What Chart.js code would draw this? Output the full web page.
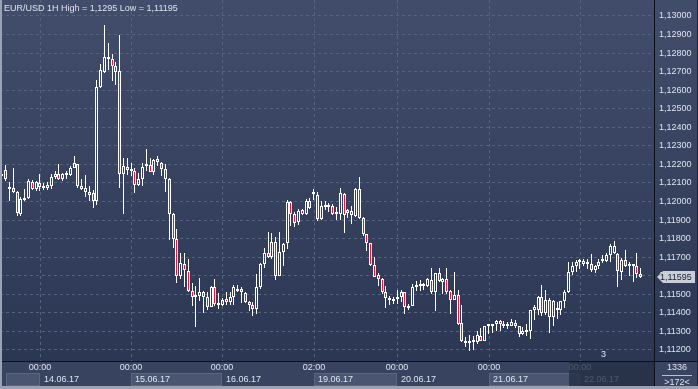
<!DOCTYPE html>
<html>
<head>
<meta charset="utf-8">
<script src="https://cdn.jsdelivr.net/npm/chart.js@4.4.1/dist/chart.umd.min.js"></script>
<style>
 html, body { margin: 0; padding: 0; background: #2f3b56; }
 canvas { display: block; }
</style>
</head>
<body>
<canvas id="candleChart" width="698" height="389"></canvas>
<script>
// EUR/USD hourly candles
const opens = [
 1.12140, 1.12170, 1.12070, 1.12075, 1.12054, 1.11932, 1.12009, 1.12018, 1.12107, 1.12066,
 1.12102, 1.12072, 1.12075, 1.12084, 1.12134, 1.12150, 1.12120, 1.12145, 1.12143, 1.12182,
 1.12204, 1.12084, 1.12075, 1.12054, 1.12045, 1.12004, 1.12620, 1.12700, 1.12777, 1.12766,
 1.12731, 1.12704, 1.12150, 1.12186, 1.12164, 1.12164, 1.12089, 1.12121, 1.12189, 1.12198,
 1.12159, 1.12228, 1.12207, 1.12175, 1.12121, 1.11934, 1.11796, 1.11600, 1.11662, 1.11625,
 1.11519, 1.11484, 1.11489, 1.11514, 1.11484, 1.11430, 1.11537, 1.11444, 1.11444, 1.11475,
 1.11460, 1.11487, 1.11519, 1.11528, 1.11507, 1.11457, 1.11443, 1.11421, 1.11537, 1.11666,
 1.11725, 1.11703, 1.11782, 1.11599, 1.11728, 1.11778, 1.11996, 1.11935, 1.11891, 1.11957,
 1.11933, 1.12005, 1.12041, 1.12037, 1.11907, 1.11971, 1.11971, 1.11975, 1.11932, 1.11932,
 1.12042, 1.11957, 1.11951, 1.11921, 1.12069, 1.11912, 1.11823, 1.11775, 1.11658, 1.11603,
 1.11582, 1.11510, 1.11468, 1.11464, 1.11475, 1.11486, 1.11510, 1.11426, 1.11437, 1.11540,
 1.11546, 1.11553, 1.11544, 1.11577, 1.11510, 1.11613, 1.11568, 1.11582, 1.11519, 1.11471,
 1.11495, 1.11345, 1.11250, 1.11236, 1.11241, 1.11241, 1.11274, 1.11250, 1.11327, 1.11327,
 1.11341, 1.11354, 1.11332, 1.11330, 1.11332, 1.11345, 1.11327, 1.11287, 1.11296, 1.11301,
 1.11414, 1.11414, 1.11483, 1.11401, 1.11472, 1.11378, 1.11414, 1.11414, 1.11463, 1.11514,
 1.11623, 1.11650, 1.11674, 1.11681, 1.11665, 1.11665, 1.11632, 1.11650, 1.11678, 1.11678,
 1.11714, 1.11723, 1.11720, 1.11620, 1.11683, 1.11654, 1.11650, 1.11650, 1.11610
];
const highs = [
 1.12164, 1.12197, 1.12107, 1.12179, 1.12057, 1.12025, 1.12070, 1.12123, 1.12114, 1.12111,
 1.12147, 1.12102, 1.12105, 1.12150, 1.12164, 1.12200, 1.12155, 1.12164, 1.12191, 1.12248,
 1.12205, 1.12123, 1.12145, 1.12084, 1.12061, 1.12656, 1.12741, 1.12950, 1.12852, 1.12795,
 1.12754, 1.12900, 1.12236, 1.12236, 1.12207, 1.12180, 1.12153, 1.12207, 1.12284, 1.12234,
 1.12230, 1.12243, 1.12211, 1.12203, 1.12125, 1.11940, 1.11853, 1.11725, 1.11725, 1.11689,
 1.11560, 1.11546, 1.11586, 1.11519, 1.11514, 1.11546, 1.11582, 1.11507, 1.11478, 1.11510,
 1.11510, 1.11552, 1.11552, 1.11537, 1.11510, 1.11466, 1.11457, 1.11610, 1.11671, 1.11748,
 1.11837, 1.11832, 1.11808, 1.11837, 1.11775, 1.12007, 1.12005, 1.11942, 1.11960, 1.11960,
 1.12014, 1.12019, 1.12069, 1.12050, 1.12001, 1.12001, 1.11992, 1.11987, 1.11969, 1.12073,
 1.12046, 1.11962, 1.11978, 1.12072, 1.12135, 1.11917, 1.11826, 1.11778, 1.11703, 1.11614,
 1.11587, 1.11546, 1.11490, 1.11486, 1.11526, 1.11522, 1.11513, 1.11450, 1.11558, 1.11573,
 1.11577, 1.11562, 1.11589, 1.11640, 1.11616, 1.11640, 1.11586, 1.11640, 1.11526, 1.11622,
 1.11526, 1.11441, 1.11268, 1.11283, 1.11274, 1.11305, 1.11319, 1.11330, 1.11341, 1.11341,
 1.11359, 1.11359, 1.11356, 1.11350, 1.11368, 1.11359, 1.11332, 1.11323, 1.11341, 1.11418,
 1.11441, 1.11490, 1.11550, 1.11523, 1.11478, 1.11469, 1.11460, 1.11466, 1.11523, 1.11672,
 1.11672, 1.11687, 1.11690, 1.11690, 1.11690, 1.11720, 1.11660, 1.11692, 1.11714, 1.11723,
 1.11769, 1.11787, 1.11723, 1.11696, 1.11741, 1.11672, 1.11660, 1.11723, 1.11641
];
const lows = [
 1.12057, 1.12113, 1.12004, 1.12048, 1.11923, 1.11920, 1.12005, 1.12013, 1.12063, 1.12057,
 1.12055, 1.12063, 1.12063, 1.12070, 1.12120, 1.12114, 1.12113, 1.12123, 1.12138, 1.12180,
 1.12075, 1.12063, 1.12022, 1.12004, 1.11966, 1.11982, 1.12611, 1.12691, 1.12709, 1.12652,
 1.12629, 1.12075, 1.11934, 1.12141, 1.12139, 1.12046, 1.12082, 1.12082, 1.12162, 1.12157,
 1.12141, 1.12193, 1.12139, 1.12050, 1.11793, 1.11752, 1.11560, 1.11582, 1.11537, 1.11510,
 1.11435, 1.11323, 1.11466, 1.11398, 1.11418, 1.11430, 1.11439, 1.11421, 1.11439, 1.11443,
 1.11443, 1.11443, 1.11514, 1.11453, 1.11453, 1.11412, 1.11382, 1.11394, 1.11528, 1.11644,
 1.11698, 1.11692, 1.11578, 1.11597, 1.11653, 1.11742, 1.11867, 1.11864, 1.11876, 1.11930,
 1.11930, 1.11962, 1.12007, 1.11894, 1.11903, 1.11957, 1.11942, 1.11930, 1.11903, 1.11903,
 1.11828, 1.11912, 1.11880, 1.11917, 1.11908, 1.11814, 1.11733, 1.11653, 1.11591, 1.11546,
 1.11501, 1.11424, 1.11441, 1.11450, 1.11450, 1.11459, 1.11395, 1.11417, 1.11435, 1.11519,
 1.11519, 1.11522, 1.11537, 1.11500, 1.11410, 1.11568, 1.11504, 1.11500, 1.11395, 1.11468,
 1.11337, 1.11241, 1.11218, 1.11195, 1.11198, 1.11232, 1.11247, 1.11248, 1.11287, 1.11292,
 1.11305, 1.11305, 1.11319, 1.11314, 1.11327, 1.11319, 1.11269, 1.11283, 1.11278, 1.11260,
 1.11360, 1.11390, 1.11383, 1.11387, 1.11292, 1.11329, 1.11369, 1.11387, 1.11429, 1.11505,
 1.11605, 1.11618, 1.11636, 1.11654, 1.11636, 1.11620, 1.11614, 1.11636, 1.11669, 1.11672,
 1.11672, 1.11720, 1.11541, 1.11578, 1.11647, 1.11600, 1.11569, 1.11587, 1.11587
];
const closes = [
 1.12137, 1.12120, 1.12075, 1.12052, 1.11936, 1.12013, 1.12016, 1.12111, 1.12070, 1.12104,
 1.12080, 1.12079, 1.12088, 1.12134, 1.12150, 1.12120, 1.12147, 1.12152, 1.12182, 1.12207,
 1.12084, 1.12070, 1.12052, 1.12036, 1.12004, 1.12620, 1.12709, 1.12777, 1.12766, 1.12731,
 1.12700, 1.12150, 1.12191, 1.12172, 1.12171, 1.12089, 1.12121, 1.12186, 1.12198, 1.12159,
 1.12225, 1.12212, 1.12175, 1.12121, 1.11934, 1.11796, 1.11600, 1.11668, 1.11630, 1.11519,
 1.11484, 1.11496, 1.11514, 1.11484, 1.11430, 1.11537, 1.11448, 1.11451, 1.11471, 1.11457,
 1.11487, 1.11537, 1.11528, 1.11510, 1.11457, 1.11443, 1.11421, 1.11537, 1.11666, 1.11725,
 1.11703, 1.11782, 1.11599, 1.11728, 1.11769, 1.11996, 1.11935, 1.11885, 1.11951, 1.11933,
 1.12005, 1.11966, 1.12050, 1.11907, 1.11978, 1.11978, 1.11983, 1.11933, 1.11939, 1.12046,
 1.11930, 1.11939, 1.11926, 1.12069, 1.11912, 1.11823, 1.11775, 1.11658, 1.11596, 1.11582,
 1.11510, 1.11478, 1.11477, 1.11473, 1.11486, 1.11510, 1.11432, 1.11437, 1.11537, 1.11549,
 1.11553, 1.11546, 1.11582, 1.11510, 1.11613, 1.11573, 1.11582, 1.11510, 1.11471, 1.11495,
 1.11341, 1.11250, 1.11240, 1.11245, 1.11247, 1.11281, 1.11250, 1.11327, 1.11332, 1.11332,
 1.11356, 1.11341, 1.11341, 1.11336, 1.11350, 1.11327, 1.11287, 1.11300, 1.11301, 1.11414,
 1.11432, 1.11483, 1.11401, 1.11472, 1.11378, 1.11463, 1.11423, 1.11463, 1.11514, 1.11623,
 1.11650, 1.11674, 1.11681, 1.11665, 1.11672, 1.11629, 1.11650, 1.11674, 1.11683, 1.11714,
 1.11760, 1.11763, 1.11627, 1.11683, 1.11654, 1.11650, 1.11654, 1.11610, 1.11595
];

// bars shown on screen (last 3 slots are empty)
const slotCount = 172;
// index of the first candle of each day, with its time and date text
const dayStarts = [10, 34, 58, 82, 104, 128, 152];
const dayTimes = ["00:00", "00:00", "00:00", "02:00", "00:00", "00:00", "00:00"];
const dayDates = ["14.06.17", "15.06.17", "16.06.17", "19.06.17", "20.06.17", "21.06.17", "22.06.17"];

const titleText = "EUR/USD 1H High = 1,1295 Low = 1,11195";
const totalBars = "1336";
const visibleBars = ">172<";

const RED = "#e3173e";
const TEXT = "#dde3ee";
const FONT = "9px 'Liberation Sans', Arial, sans-serif";
const fmt = v => v.toFixed(5).replace(".", ",");

const labels = Array.from({ length: slotCount }, (_, i) => i);
const bodies = opens.map((o, i) => [Math.min(o, closes[i]), Math.max(o, closes[i])]);
const upperWicks = opens.map((o, i) => [Math.max(o, closes[i]), highs[i]]);
const lowerWicks = opens.map((o, i) => [lows[i], Math.min(o, closes[i])]);
const bodyFill = opens.map((o, i) => (closes[i] < o ? RED : "rgba(0,0,0,0)"));

const terminalLook = {
 id: "terminalLook",
 beforeDraw(chart) {
  const ctx = chart.ctx;
  const bottom = chart.chartArea.bottom;
  const g = ctx.createLinearGradient(0, 0, 0, bottom);
  g.addColorStop(0, "#414d6a");
  g.addColorStop(1, "#2b3753");
  ctx.save();
  ctx.fillStyle = g;
  ctx.fillRect(0, 0, chart.width, bottom);
  ctx.restore();
 },
 beforeDatasetsDraw(chart) {
  const ctx = chart.ctx;
  const xs = chart.scales.x;
  const { top, bottom } = chart.chartArea;
  ctx.save();
  ctx.strokeStyle = "#56637f";
  ctx.lineWidth = 1;
  ctx.setLineDash([3, 3]);
  dayStarts.forEach(i => {
   const x = Math.round(xs.getPixelForValue(i)) + 0.5;
   ctx.beginPath();
   ctx.moveTo(x, top);
   ctx.lineTo(x, bottom);
   ctx.stroke();
  });
  ctx.restore();

  // snap the candles to whole pixels so the thin lines stay crisp
  chart.data.datasets.forEach((ds, d) => {
   chart.getDatasetMeta(d).data.forEach(el => {
    el.x = Math.floor(el.x) + 0.5;
    el.y = Math.round(el.y);
    el.base = Math.round(el.base);
   });
  });
 },
 afterDraw(chart) {
  const ctx = chart.ctx;
  const xs = chart.scales.x;
  const ys = chart.scales.y;
  const { right, bottom } = chart.chartArea;
  const W = chart.width, H = chart.height;
  ctx.save();
  ctx.font = FONT;
  ctx.textBaseline = "middle";

  // title
  ctx.fillStyle = TEXT;
  ctx.textAlign = "left";
  ctx.fillText(titleText, 4, 9);

  // small counter near the corner
  ctx.fillText("3", 601, bottom - 6);

  // last price tag
  const last = closes[closes.length - 1];
  const py = Math.round(ys.getPixelForValue(last));
  ctx.fillStyle = "#c9ced8";
  ctx.beginPath();
  ctx.moveTo(right + 3, py);
  ctx.lineTo(right + 9, py - 6);
  ctx.lineTo(W - 3, py - 6);
  ctx.lineTo(W - 3, py + 6);
  ctx.lineTo(right + 9, py + 6);
  ctx.closePath();
  ctx.fill();
  ctx.fillStyle = "#1c2233";
  ctx.fillText(fmt(last), right + 6, py + 0.5);

  // time panel
  ctx.fillStyle = "#38445f";
  ctx.fillRect(0, bottom, W, H - bottom);
  const px = dayStarts.map(i => Math.round(xs.getPixelForValue(i)));
  const edges = [6, ...px, right];
  for (let k = 0; k < edges.length - 1; k++) {
   if (k % 2 === 0) {
    ctx.fillStyle = "#4a5671";
    ctx.fillRect(edges[k], bottom + 12, edges[k + 1] - edges[k], 13);
    ctx.strokeStyle = "#5a6680";
    ctx.strokeRect(edges[k] + 0.5, bottom + 12.5, edges[k + 1] - edges[k] - 1, 12);
   }
  }
  ctx.fillStyle = TEXT;
  px.forEach((x, k) => {
   ctx.textAlign = "center";
   ctx.fillText(dayTimes[k], x, bottom + 7);
   ctx.textAlign = "left";
   ctx.fillText(dayDates[k], x + 4, bottom + 19);
  });
  // dim block over the current day
  const dimX = px[px.length - 1] - 11;
  ctx.fillStyle = "rgba(36,46,68,0.78)";
  ctx.fillRect(dimX, bottom + 1, right - dimX, H - bottom - 4);

  // counter box under the price axis
  ctx.fillStyle = "#3a4661";
  ctx.fillRect(right, bottom, W - right, H - bottom);
  ctx.fillStyle = TEXT;
  ctx.textAlign = "center";
  const cx = (right + W) / 2 + 1;
  ctx.fillText(totalBars, cx, bottom + 7);
  ctx.fillText(visibleBars, cx, bottom + 22);
  ctx.strokeStyle = "#b9c1d0";
  ctx.beginPath();
  ctx.moveTo(right + 8, bottom + 14.5);
  ctx.lineTo(W - 6, bottom + 14.5);
  ctx.stroke();

  // frame lines
  ctx.strokeStyle = "#0c1018";
  ctx.beginPath();
  ctx.moveTo(0, bottom + 0.5);
  ctx.lineTo(W, bottom + 0.5);
  ctx.moveTo(right + 0.5, bottom);
  ctx.lineTo(right + 0.5, H);
  ctx.stroke();
  ctx.fillStyle = "#9ba3b3";
  ctx.fillRect(0, 0, 2, H);
  ctx.fillRect(0, H - 3, W, 3);
  ctx.fillStyle = "#1d2538";
  ctx.fillRect(W - 1, 0, 1, H - 3);
  ctx.restore();
 }
};

new Chart(document.getElementById("candleChart"), {
 type: "bar",
 data: {
  labels: labels,
  datasets: [
   {
    label: "body",
    data: bodies,
    grouped: false,
    barThickness: 3,
    minBarLength: 2,
    borderWidth: 1,
    borderSkipped: false,
    inflateAmount: 0,
    borderColor: "#ffffff",
    backgroundColor: bodyFill,
   },
   {
    label: "upper wick",
    data: upperWicks,
    grouped: false,
    barThickness: 1,
    borderWidth: 0,
    inflateAmount: 0,
    backgroundColor: "#ffffff",
   },
   {
    label: "lower wick",
    data: lowerWicks,
    grouped: false,
    barThickness: 1,
    borderWidth: 0,
    inflateAmount: 0,
    backgroundColor: "#ffffff",
   },
  ],
 },
 options: {
  responsive: false,
  devicePixelRatio: 1,
  animation: false,
  layout: { padding: { left: 0, right: 0, top: 0, bottom: 28 } },
  plugins: {
   legend: { display: false },
   tooltip: { enabled: false },
   title: { display: false },
  },
  scales: {
   x: {
    type: "category",
    display: false,
    offset: true,
    grid: { display: false },
   },
   y: {
    position: "right",
    min: 1.111407,
    max: 1.130862,
    afterFit: scale => {
     scale.width = 44;
     scale.paddingTop = 0;
     scale.paddingBottom = 0;
    },
    ticks: {
     stepSize: 0.001,
     includeBounds: false,
     autoSkip: false,
     padding: 5,
     color: TEXT,
     font: { family: "'Liberation Sans', Arial, sans-serif", size: 9 },
     callback: v => fmt(v),
    },
    grid: { color: "#56637f", drawTicks: false, tickLength: 0 },
    border: { display: true, color: "#0c1018", width: 1, dash: [3, 3] },
   },
  },
 },
 plugins: [terminalLook],
});
</script>
</body>
</html>
